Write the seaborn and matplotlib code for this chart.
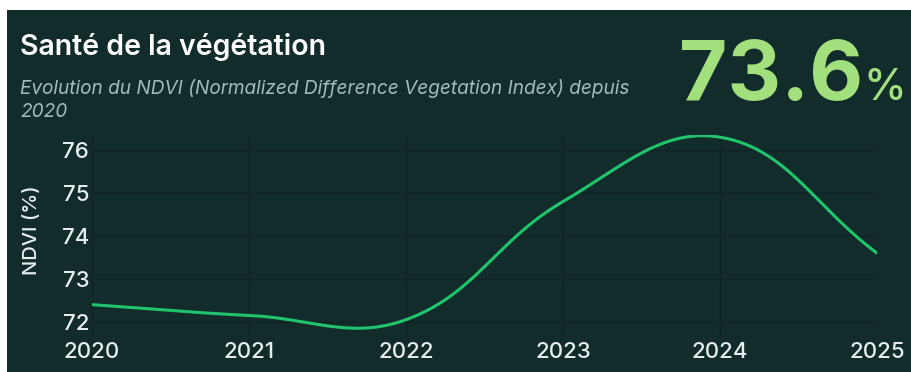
import numpy as np
import pandas as pd
import matplotlib
matplotlib.use("Agg")
import matplotlib.pyplot as plt
from matplotlib.patches import Rectangle
import seaborn as sns

# NDVI yearly values (%)
years = [2020, 2021, 2022, 2023, 2024, 2025]
ndvi = [72.4, 72.15, 72.05, 74.8, 76.3, 73.6]
y_ticks = [72, 73, 74, 75, 76]
title = "Santé de la végétation"
subtitle = "Evolution du NDVI (Normalized Difference Vegetation Index) depuis\n2020"
headline_value = ndvi[-1]

BG = "#122b2b"
GRID = "#0f2525"
LINE = "#1fc46c"
TEXT = "#e6efef"
SUB = "#a3bbbb"
BIG = "#a2df7d"

sns.set_theme(style="dark")
plt.rcParams["font.family"] = ["Inter", "DejaVu Sans"]

W, H, DPI = 911, 372, 100
fig = plt.figure(figsize=(W / DPI, H / DPI), dpi=DPI, facecolor="white")

# dark card behind everything
fig.patches.append(Rectangle((7 / W, 0), 1 - 7 / W, (H - 10) / H,
                             transform=fig.transFigure, facecolor=BG,
                             edgecolor="none", zorder=-10))

# plot area in pixels
px_left, px_right, px_top, px_bottom = 92, 877, 135, 336
ax = fig.add_axes([px_left / W, (H - px_bottom) / H,
                   (px_right - px_left) / W, (px_bottom - px_top) / H])
ax.set_zorder(5)
ax.set_facecolor("none")

ymin, ymax = 71.67, 76.35
ax.set_xlim(years[0], years[-1])
ax.set_ylim(ymin, ymax)


def smooth_curve(xs, ys, tension=0.4, n=60):
    """Cardinal-style bezier smoothing computed in pixel space."""
    sx = (px_right - px_left) / (xs[-1] - xs[0])
    sy = (px_bottom - px_top) / (ymax - ymin)
    P = np.column_stack([(np.asarray(xs) - xs[0]) * sx,
                         (np.asarray(ys) - ymin) * sy])
    k = len(P)
    cp_prev, cp_next = [], []
    for i in range(k):
        prev = P[i - 1] if i > 0 else P[i]
        nxt = P[i + 1] if i < k - 1 else P[i]
        d01 = np.linalg.norm(P[i] - prev)
        d12 = np.linalg.norm(nxt - P[i])
        tot = d01 + d12 if d01 + d12 > 0 else 1
        s01, s12 = d01 / tot, d12 / tot
        cp_prev.append(P[i] - tension * s01 * (nxt - prev))
        cp_next.append(P[i] + tension * s12 * (nxt - prev))
    pts = []
    t = np.linspace(0, 1, n)[:, None]
    for i in range(k - 1):
        a, b, c, d = P[i], cp_next[i], cp_prev[i + 1], P[i + 1]
        seg = ((1 - t) ** 3) * a + 3 * ((1 - t) ** 2) * t * b + 3 * (1 - t) * t ** 2 * c + t ** 3 * d
        pts.append(seg if i == 0 else seg[1:])
    pts = np.vstack(pts)
    return pts[:, 0] / sx + xs[0], pts[:, 1] / sy + ymin


cx, cy = smooth_curve(years, ndvi)
curve = pd.DataFrame({"year": cx, "ndvi": cy})
sns.lineplot(data=curve, x="year", y="ndvi", sort=False, color=LINE,
             linewidth=2.2, ax=ax, zorder=3)

ax.set_xticks(years)
ax.set_xticklabels([str(y) for y in years])
ax.set_yticks(y_ticks)
ax.set_yticklabels([str(v) for v in y_ticks])
ax.grid(True, color=GRID, linewidth=1.0)
ax.set_axisbelow(True)
for s in ax.spines.values():
    s.set_visible(False)
ax.tick_params(axis="x", colors=TEXT, labelsize=16, pad=4, length=0)
ax.tick_params(axis="y", colors=TEXT, labelsize=16, pad=2, length=0)
for lbl in ax.get_xticklabels() + ax.get_yticklabels():
    lbl.set_fontweight("medium")
ax.set_xlabel("")
ax.set_ylabel("")

fig.text(32 / W, 1 - 230 / H, "NDVI (%)", rotation=90, color=TEXT,
         fontsize=14.5, fontweight="medium", ha="center", va="center")

fig.text(20 / W, 1 - 47 / H, title, color="white", fontsize=20.5,
         fontweight="semibold", ha="left", va="center")
fig.text(20 / W, 1 - 100 / H, subtitle, color=SUB, fontsize=13.7,
         style="italic", ha="left", va="center", linespacing=1.4)

fig.text(863 / W, 1 - 100 / H, f"{headline_value:.1f}", color=BIG,
         fontsize=60, fontweight="bold", ha="right", va="baseline")
fig.text(864 / W, 1 - 100 / H, "%", color=BIG, fontsize=31,
         fontweight="medium", ha="left", va="baseline")

fig.savefig("out.png", dpi=DPI, facecolor="white")
